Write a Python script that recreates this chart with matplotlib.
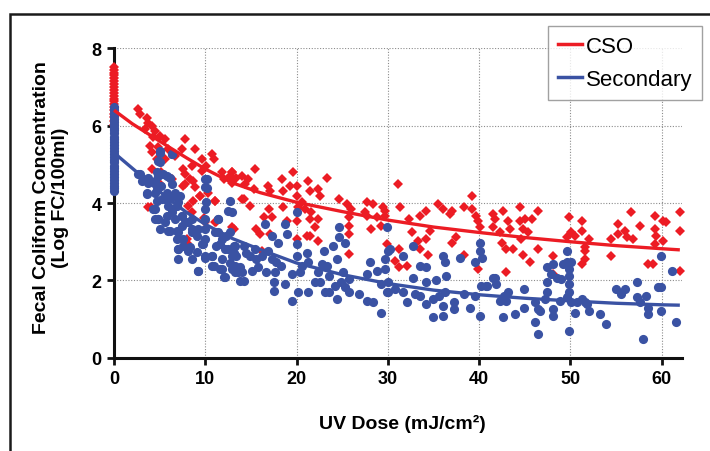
import matplotlib
matplotlib.use("Agg")
import matplotlib.pyplot as plt
from matplotlib.lines import Line2D
from matplotlib.patches import Rectangle

plt.rcParams['font.family'] = ['Liberation Sans', 'DejaVu Sans']

# ---------------- data ----------------
# zero-dose samples (stacked at UV dose 0)
cso_zero_y = [7.52, 7.45, 7.37, 7.3, 7.22, 7.15, 7.08, 7.0, 6.93, 6.85, 6.78,
              6.7, 6.63, 6.55, 6.48, 6.4, 6.3, 6.22, 6.12, 6.02]
sec_zero_y = [6.48, 6.41, 6.33, 6.26, 6.18, 6.1, 6.03, 5.95, 5.88, 5.8, 5.72,
              5.65, 5.57, 5.5, 5.42, 5.35, 5.27, 5.2, 5.12, 5.05, 4.97, 4.9,
              4.82, 4.75, 4.67, 4.6, 4.52, 4.45, 4.38, 4.32]

cso_x = [2.66, 2.85, 3.58, 3.76, 4.12, 3.39, 4.49, 4.31, 5.04, 5.58, 7.77, 3.94,
         4.85, 5.95, 7.41, 4.12, 4.67, 5.58, 6.68, 8.87, 9.6, 10.7, 11.0, 10.1,
         8.5, 7.6, 4.12, 5.2, 4.85, 6.3, 7.6, 8.3, 8.9, 6.7, 9.4, 11.1, 8.7, 7.8,
         9.6, 11.8, 12.7, 12.9, 3.76, 8.1, 10.0, 11.1, 8.5, 7.96, 5.0,
         12.9, 13.4, 13.98, 14.4, 14.7, 15.4, 15.3, 14.2, 14.9, 16.9, 17.1, 18.4,
         18.5, 19.6, 19.3, 20.0, 20.0, 20.2, 20.6, 21.3, 21.5, 22.4, 22.6, 23.3,
         20.9, 21.6, 17.0, 18.5, 16.4, 17.3, 18.9, 20.0, 21.5, 22.4, 22.0, 21.1,
         21.5, 15.6, 16.0, 17.1, 13.1, 16.2, 20.0, 22.4, 24.7, 25.5, 26.0, 25.7,
         25.8, 25.8, 25.7, 27.7, 28.4, 27.5, 27.7, 28.8, 29.5, 29.7, 28.2, 29.3,
         29.9,
         31.1, 29.7, 31.3, 32.3, 33.5, 34.2, 35.5, 36.1, 36.8, 37.0, 38.4, 39.2,
         39.2, 39.7, 39.9, 40.1, 39.9, 32.6, 34.6, 34.2, 33.3, 33.5, 34.4, 31.2,
         30.8, 32.1, 31.2, 37.0, 37.5, 38.4, 41.5, 41.7, 42.6, 43.2, 41.5, 42.3,
         43.4, 44.5, 44.5, 45.0, 45.8, 46.5, 44.8, 45.4, 44.6, 42.5, 43.0, 43.7,
         44.8, 45.6, 43.0, 46.5,
         48.1, 48.1, 49.8, 49.6, 50.1, 50.5, 51.3, 51.3, 52.0, 51.6, 51.6, 51.6,
         51.3, 54.5, 54.5, 55.2, 55.2, 56.0, 56.2, 56.7, 56.9, 57.6, 58.5, 59.1,
         59.3, 59.3, 59.4, 59.3, 60.2, 60.5, 62.0, 62.0, 62.0, 60.2,
         7.96, 9.9, 11.2, 12.9, 4.0, 5.95, 7.78, 8.7, 9.4, 10.3, 11.1, 12.0,
         12.9, 14.0]
cso_y = [6.43, 6.30, 6.21, 6.08, 5.99, 5.91, 5.87, 5.70, 5.74, 5.65, 5.65, 5.48,
         5.44, 5.40, 5.40, 5.31, 5.14, 5.14, 5.22, 5.40, 5.14, 5.27, 5.14, 4.96,
         4.96, 4.88, 4.88, 4.79, 4.53, 4.62, 4.45, 4.62, 4.41, 4.19, 4.19, 4.06,
         4.06, 4.75, 4.84, 4.79, 4.71, 4.53, 3.89, 3.93, 3.50, 3.50, 3.76, 3.07,
         4.49,
         4.79, 4.66, 4.71, 4.49, 4.62, 4.88, 4.36, 4.10, 3.93, 4.45, 4.32, 4.62,
         4.32, 4.79, 4.45, 4.45, 4.19, 3.89, 4.02, 4.58, 4.32, 4.36, 4.19, 4.66,
         3.84, 3.76, 3.84, 3.89, 3.63, 3.63, 3.54, 3.54, 3.58, 3.58, 3.37, 3.15,
         3.15, 3.33, 3.20, 3.20, 3.33, 2.77, 3.07, 3.03, 4.10, 3.97, 3.84, 3.63,
         3.41, 3.20, 2.68, 4.02, 3.97, 3.76, 3.67, 3.63, 3.89, 3.67, 3.33, 3.41,
         2.94,
         4.49, 3.80, 3.89, 3.59, 3.67, 3.80, 3.97, 3.84, 3.72, 3.80, 3.89, 4.19,
         3.84, 3.67, 3.54, 3.37, 2.29, 3.24, 3.28, 3.07, 3.03, 2.81, 2.66, 2.81,
         2.51, 2.38, 2.34, 2.98, 3.11, 2.66, 3.72, 3.59, 3.80, 3.54, 3.37, 3.24,
         3.33, 3.89, 3.54, 3.59, 3.59, 3.80, 3.33, 3.24, 3.07, 2.98, 2.81, 2.81,
         2.66, 2.47, 2.21, 2.81,
         2.64, 2.16, 3.63, 3.11, 3.24, 3.16, 3.54, 3.28, 3.07, 2.86, 2.77, 2.55,
         2.42, 3.07, 2.64, 3.46, 3.20, 3.28, 3.11, 3.76, 3.07, 3.41, 2.42, 2.42,
         3.67, 3.33, 3.16, 2.94, 3.54, 3.50, 3.76, 3.28, 2.25, 3.03,
         2.98, 3.62, 3.50, 3.37, 3.89, 4.19, 4.49, 4.58, 4.19, 4.27, 4.06, 4.62,
         4.79, 4.10]

sec_x = [5.04, 6.3, 4.85, 2.85, 3.04, 3.76, 4.85, 5.4, 6.1, 3.58, 4.67, 5.2, 6.3,
         5.77, 4.67, 5.58, 6.5, 7.2, 4.3, 5.95, 6.9, 4.85, 4.5, 6.3, 7.4, 8.5,
         10.0, 10.0, 10.1, 11.4, 12.7, 6.1, 7.4, 8.5, 10.0, 11.4, 12.3, 9.05,
         10.0, 7.6, 7.0, 8.1, 9.6, 11.6, 12.5, 10.7, 10.0, 7.0, 8.5, 9.2, 10.7,
         11.6, 12.1, 12.9, 13.1, 5.58, 7.8, 6.9,
         12.9, 12.7, 13.1, 13.4, 14.2, 14.5, 14.9, 15.5, 15.6, 16.2, 16.5, 17.3,
         18.0, 18.7, 18.9, 16.9, 17.3, 17.8, 18.3, 17.6, 16.7, 15.8, 14.2, 15.1,
         13.3, 13.6, 17.5, 17.5, 18.7, 19.5, 19.5, 20.0, 20.0, 20.0, 20.6, 20.4,
         21.1, 21.3, 20.2, 21.3, 22.0, 22.4, 22.8, 23.3, 23.0, 24.0, 24.4, 23.6,
         22.6, 23.1, 23.6, 24.2, 24.7, 24.7, 25.3, 25.1, 24.9, 25.3, 25.8, 24.4,
         25.7, 26.8, 27.7, 28.0, 27.7, 28.8, 28.4, 29.3, 29.9, 30.0, 29.9, 29.3,
         30.2, 29.7, 29.7, 30.0, 30.0, 31.7, 32.8, 33.5, 34.2, 36.1, 36.3, 37.9,
         39.5, 40.1, 40.1, 40.3, 41.7, 41.9, 40.9, 40.2, 32.8, 34.2, 35.3, 36.4,
         30.8, 31.7, 32.1, 33.0, 33.5, 34.2, 34.9, 35.6, 36.3, 36.1, 37.2, 37.3,
         35.0, 36.1, 38.4, 39.5, 39.0, 40.1, 42.7, 42.3, 43.0, 43.2, 42.6, 43.9,
         44.9, 44.9, 46.1, 46.5, 46.1, 46.5, 41.5, 40.8,
         47.4, 48.1, 47.9, 48.5, 49.0, 49.6, 49.2, 49.6, 50.1, 49.9, 49.9, 49.9,
         49.9, 47.4, 47.4, 47.2, 46.7, 48.1, 48.1, 48.9, 49.6, 50.1, 50.5, 50.7,
         51.3, 51.6, 52.0, 51.8, 53.2, 53.9, 49.9, 55.0, 56.0, 55.6, 57.3, 57.3,
         57.6, 58.3, 58.5, 58.5, 58.0, 59.6, 59.9, 59.9, 59.9, 61.1, 61.6,
         2.67, 3.21, 3.76, 4.49, 5.04, 6.3, 5.04, 4.67, 5.77, 3.58, 4.49, 5.22,
         5.95, 6.68, 7.05, 6.3, 4.49, 5.77, 6.68, 7.41, 8.14, 4.86, 5.04, 5.95,
         7.05, 8.5, 9.2, 9.97, 9.97, 10.15, 10.15, 11.4, 12.5, 11.06, 11.8,
         11.2, 6.86, 7.6, 7.05, 8.3, 9.05, 9.8, 9.97, 10.7, 12.2, 12.9, 13.3,
         11.8, 12.7, 10.9, 11.8, 9.2, 13.3, 12.2, 13.8, 13.8, 14.0]
sec_y = [5.35, 5.27, 5.09, 4.75, 4.58, 4.66, 4.71, 4.75, 4.66, 4.27, 4.36, 4.45,
         4.49, 4.27, 4.06, 4.10, 4.19, 4.19, 3.84, 3.93, 3.93, 3.58, 3.58, 3.76,
         3.67, 3.58, 4.62, 4.41, 4.02, 3.58, 4.06, 3.28, 3.41, 3.33, 3.33, 3.24,
         3.15, 3.15, 3.07, 3.07, 2.81, 2.77, 2.94, 2.94, 2.81, 2.64, 2.64, 2.55,
         2.55, 2.25, 2.38, 2.29, 2.08, 2.29, 2.72, 3.50, 3.50, 3.28,
         3.76, 3.24, 2.90, 2.64, 2.90, 2.72, 2.64, 2.81, 2.55, 2.64, 3.46, 3.15,
         2.98, 3.46, 3.20, 2.77, 2.55, 2.47, 2.38, 2.21, 2.21, 2.34, 1.99, 2.25,
         2.38, 2.21, 1.95, 1.73, 1.91, 2.16, 1.47, 3.76, 2.94, 2.64, 2.38, 2.21,
         2.72, 2.47, 1.69, 1.69, 1.95, 2.21, 2.42, 2.38, 2.77, 2.90, 2.55, 2.12,
         1.95, 1.69, 1.69, 1.86, 3.37, 3.11, 2.98, 2.21, 1.95, 1.82, 2.03, 1.52,
         1.69, 1.65, 1.47, 2.47, 2.16, 2.25, 1.43, 1.17, 1.69, 2.77, 3.37, 1.91,
         2.81, 2.55, 2.29, 1.95, 1.69, 2.64, 2.90, 2.38, 2.34, 2.64, 2.47, 2.59,
         2.47, 2.98, 2.77, 2.59, 2.07, 1.91, 1.86, 1.86, 2.07, 1.95, 2.00, 2.12,
         1.78, 1.69, 1.43, 1.65, 1.60, 1.39, 1.52, 1.60, 1.69, 1.34, 1.43, 1.26,
         1.05, 1.09, 1.65, 1.60, 1.30, 1.09, 1.60, 1.47, 1.47, 1.69, 1.05, 1.13,
         1.78, 1.30, 1.43, 1.26, 0.92, 0.62, 2.07, 1.86,
         2.34, 2.42, 2.16, 2.07, 2.03, 2.77, 2.42, 2.47, 2.47, 2.29, 2.12, 1.91,
         1.69, 1.95, 1.69, 1.52, 1.22, 1.26, 1.09, 1.47, 1.56, 1.43, 1.17, 1.43,
         1.52, 1.43, 1.22, 1.39, 1.13, 0.87, 0.70, 1.78, 1.78, 1.65, 1.95, 1.56,
         1.43, 1.60, 1.30, 1.13, 0.49, 1.82, 1.82, 2.64, 1.22, 2.25, 0.92,
         4.75, 4.62, 4.53, 4.58, 5.05, 5.27, 5.30, 4.79, 4.70, 4.23, 4.27, 4.10,
         4.10, 4.27, 4.02, 3.84, 3.84, 3.67, 3.59, 3.67, 3.50, 3.59, 3.33, 3.28,
         3.24, 3.24, 3.33, 3.84, 3.59, 4.62, 4.40, 3.59, 3.80, 3.24, 3.07,
         2.90, 3.07, 2.90, 2.81, 2.86, 2.73, 2.94, 2.59, 2.64, 2.81, 2.64, 2.90,
         2.55, 2.46, 2.38, 2.29, 2.25, 2.21, 2.08, 2.34, 1.99, 2.21]

# fitted curves
fit_x = [0, 2, 4, 6, 8, 10, 13, 16, 20, 25, 30, 35, 40, 45, 50, 55, 60, 62]
cso_fit = [6.4, 6.05, 5.75, 5.45, 5.16, 4.88, 4.52, 4.27, 4.02, 3.78, 3.56,
           3.38, 3.24, 3.11, 3.0, 2.9, 2.82, 2.79]
sec_fit = [5.3, 4.9, 4.5, 4.1, 3.75, 3.45, 3.08, 2.8, 2.45, 2.15, 1.92, 1.75,
           1.63, 1.54, 1.47, 1.41, 1.37, 1.36]

series_names = ['CSO', 'Secondary']
RED = '#EC1C24'
BLUE = '#3A52A3'

# ---------------- figure ----------------
fig = plt.figure(figsize=(7.1, 4.52), dpi=100)
ax = fig.add_axes([0.1606, 0.2062, 0.7995, 0.6847])

ax.plot([0] * len(cso_zero_y) + cso_x, cso_zero_y + cso_y, linestyle='none',
        marker='D', markersize=4.9, color=RED, markeredgewidth=0,
        clip_on=False, zorder=4)
ax.plot([0] * len(sec_zero_y) + sec_x, sec_zero_y + sec_y, linestyle='none',
        marker='o', markersize=6.6, color=BLUE, markeredgewidth=0,
        clip_on=False, zorder=5)
ax.plot(fit_x, cso_fit, color=RED, linewidth=2.4, zorder=6,
        solid_capstyle='butt', clip_on=False)
ax.plot(fit_x, sec_fit, color=BLUE, linewidth=2.4, zorder=6,
        solid_capstyle='butt', clip_on=False)

ax.set_xlim(0, 62.2)
ax.set_ylim(0, 8)
ax.set_xticks([0, 10, 20, 30, 40, 50, 60])
ax.set_yticks([0, 2, 4, 6, 8])
for side in ['top', 'right']:
    ax.spines[side].set_visible(False)
for side in ['left', 'bottom']:
    ax.spines[side].set_linewidth(2.2)
    ax.spines[side].set_color('#111111')
    ax.spines[side].set_zorder(3)
ax.tick_params(direction='out', length=5, width=2, color='#111111',
               labelsize=13, pad=4)
for lab in ax.get_xticklabels() + ax.get_yticklabels():
    lab.set_fontweight('bold')
ax.grid(True, linestyle=(0, (1, 1.5)), color='#8c8c8c', linewidth=0.8)
ax.set_axisbelow(True)

fig.text(51 / 710, 1 - 198 / 452,
         'Fecal Coliform Concentration\n(Log FC/100ml)',
         rotation=90, ha='center', va='center', fontsize=14,
         fontweight='bold', linespacing=1.1)
fig.text(402 / 710, 1 - 424 / 452, 'UV Dose (mJ/cm²)', ha='center',
         va='center', fontsize=14, fontweight='bold')

handles = [Line2D([], [], color=RED, linewidth=2.5),
           Line2D([], [], color=BLUE, linewidth=2.5)]
leg = fig.legend(handles, series_names, loc='upper left',
                 bbox_to_anchor=(548 / 710, 1 - 27 / 452), fontsize=16,
                 frameon=True, fancybox=False, handlelength=1.1,
                 handletextpad=0.15, borderpad=0.45, labelspacing=0.55,
                 borderaxespad=0)
leg.get_frame().set_edgecolor('#8a8a8a')
leg.get_frame().set_linewidth(1.0)

fig.patches.append(Rectangle((10 / 710, -0.5), 1.5, 0.5 + 1 - 15 / 452,
                             transform=fig.transFigure, fill=False,
                             edgecolor='#1a1a1a', linewidth=1.8))

fig.savefig('out.png', dpi=100)
